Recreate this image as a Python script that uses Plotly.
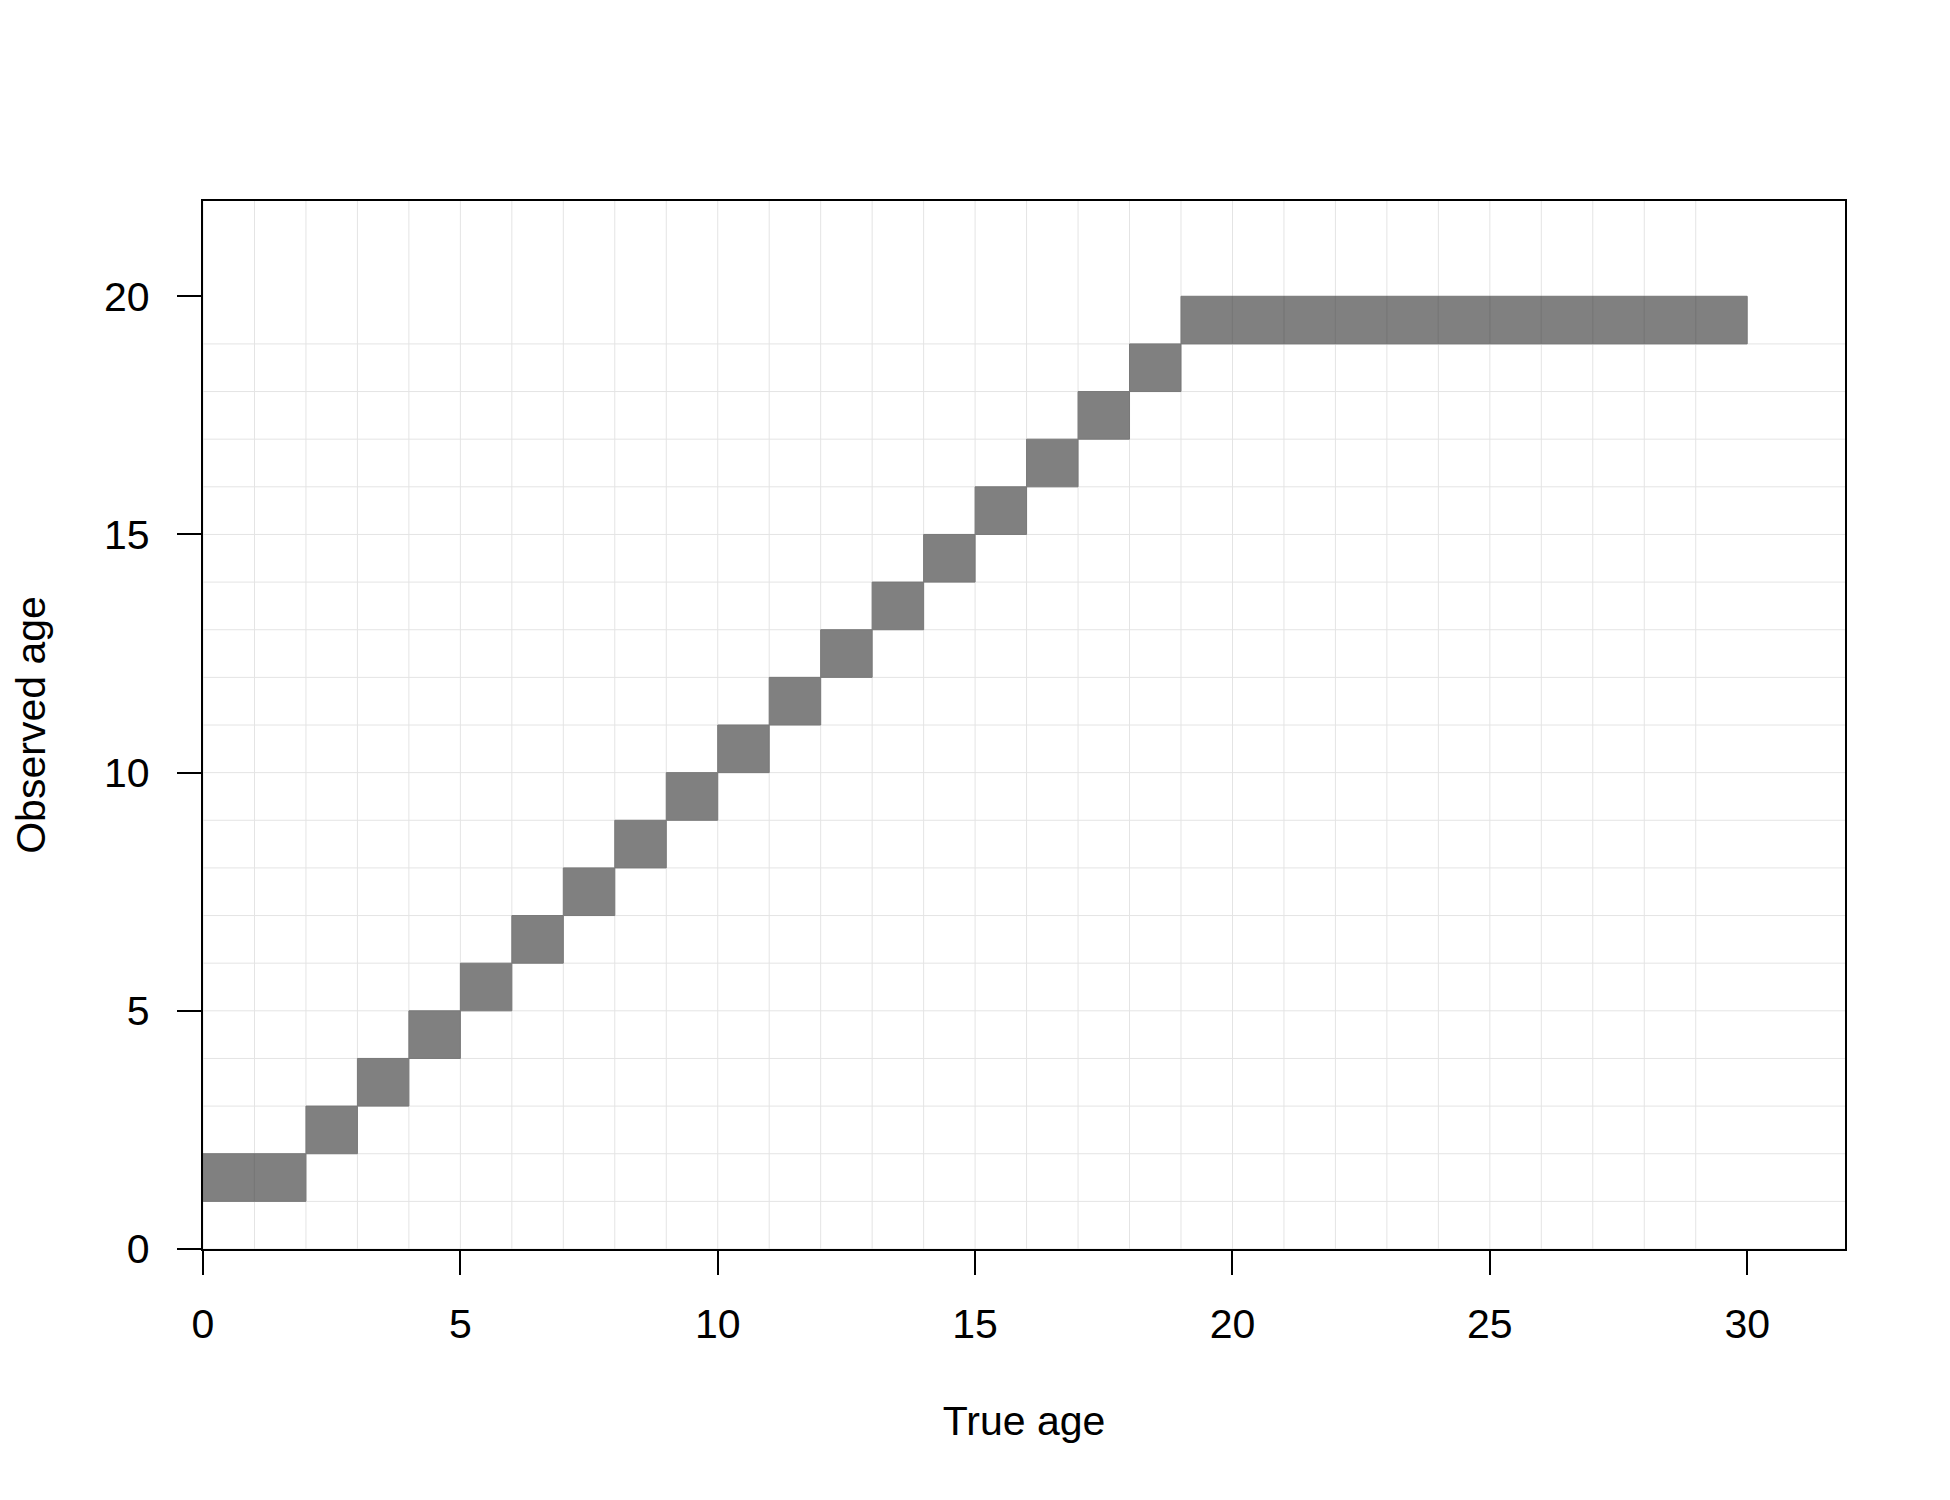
import plotly.graph_objects as go

# Age-error matrix: each true age (cell x from age-1 to age) maps to an observed age (cell y from obs-1 to obs)
true_age = list(range(1, 31))
observed_age = [2, 2, 3, 4, 5, 6, 7, 8, 9, 10, 11, 12, 13, 14, 15, 16, 17, 18, 19,
                20, 20, 20, 20, 20, 20, 20, 20, 20, 20, 20]

x_ticks = [0, 5, 10, 15, 20, 25, 30]
y_ticks = [0, 5, 10, 15, 20]
grid_x = list(range(0, 30))
grid_y = list(range(0, 20))

xs, ys = [], []
for a, o in zip(true_age, observed_age):
    x0, x1 = a - 1, a
    y0, y1 = o - 1, o
    xs += [x0, x1, x1, x0, x0, None]
    ys += [y0, y0, y1, y1, y0, None]

fig = go.Figure()
fig.add_trace(go.Scatter(
    x=xs, y=ys, mode="lines", fill="toself",
    fillcolor="#808080", line=dict(color="#787878", width=1),
    hoverinfo="skip", showlegend=False,
))

shapes = []
for gx in grid_x:
    shapes.append(dict(type="line", xref="x", yref="paper", x0=gx, x1=gx, y0=0, y1=1,
                       line=dict(color="#e4e4e4", width=1), layer="below"))
for gy in grid_y:
    shapes.append(dict(type="line", xref="paper", yref="y", x0=0, x1=1, y0=gy, y1=gy,
                       line=dict(color="#e4e4e4", width=1), layer="below"))

font_family = "Liberation Sans, Arial, sans-serif"

fig.update_layout(
    width=1950, height=1500,
    margin=dict(l=192, r=113, t=193, b=259),
    plot_bgcolor="white", paper_bgcolor="white",
    shapes=shapes,
    font=dict(family=font_family, color="black", size=41),
    xaxis=dict(
        range=[0, 31.9], tickvals=x_ticks, showgrid=False, zeroline=False,
        showline=True, linecolor="black", linewidth=2.3, mirror=True,
        ticks="outside", ticklen=24, tickwidth=2.3, tickcolor="black",
        ticklabelstandoff=14,
        tickfont=dict(size=41, family=font_family),
        title=dict(text="True age", font=dict(size=41, family=font_family), standoff=60),
    ),
    yaxis=dict(
        range=[0, 22], tickvals=y_ticks, showgrid=False, zeroline=False,
        showline=True, linecolor="black", linewidth=2.3, mirror=True,
        ticks="outside", ticklen=24, tickwidth=2.3, tickcolor="black",
        ticklabelstandoff=19,
        tickfont=dict(size=41, family=font_family),
        title=dict(text="Observed age", font=dict(size=41, family=font_family), standoff=55),
    ),
)

fig.write_html("out.html")
